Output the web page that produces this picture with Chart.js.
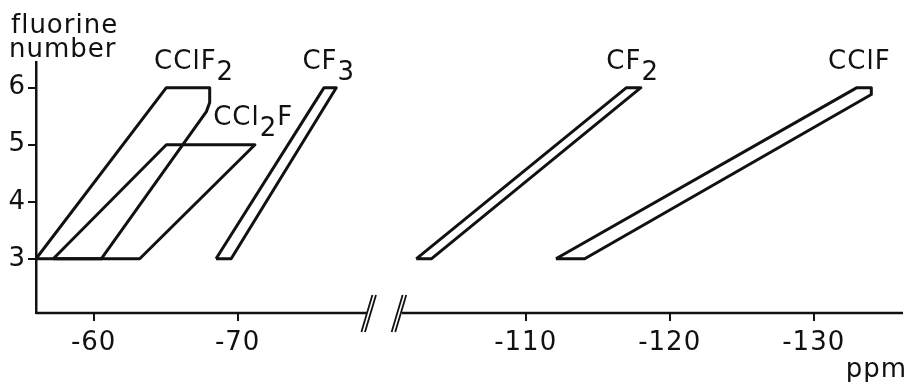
<!DOCTYPE html>
<html lang="en">
  <head>
    <meta charset="utf-8" />
    <title>Fluorine number vs shift</title>
    <script src="https://cdn.jsdelivr.net/npm/chart.js@4.4.1/dist/chart.umd.min.js"></script>
    <style>
      * { margin: 0; padding: 0; box-sizing: border-box; }
      body { background: #fff; width: 910px; height: 382px; overflow: hidden; }
      #wrap { position: relative; width: 910px; height: 382px; }
    </style>
  </head>
  <body>
    <div id="wrap"><canvas id="chart"></canvas></div>

    <script>
      // outlines of each region, chemical shift (ppm) against fluorine number
      const cclf2Shift = [-56.0, -65.05, -68.06, -68.06, -67.83, -60.53, -56.0];
      const cclf2Fluor = [3, 6, 6, 5.74, 5.58, 3, 3];
      const ccl2fShift = [-57.2, -65.05, -71.2, -63.2, -57.2];
      const ccl2fFluor = [3, 5, 5, 3, 3];
      const cf3Shift = [-68.5, -76.0, -76.85, -69.55, -68.5];
      const cf3Fluor = [3, 6, 6, 3, 3];
      const cf2Shift = [-102.4, -117.0, -118.0, -103.45, -102.4];
      const cf2Fluor = [3, 6, 6, 3, 3];
      const cclfShift = [-112.1, -133.0, -134.0, -134.0, -114.1, -112.1];
      const cclfFluor = [3, 6, 6, 5.88, 3, 3];

      const xTicks = [-60, -70, -110, -120, -130];
      const yTicks = [3, 4, 5, 6];

      // the axis is broken between -80 and -100 ppm: 20 ppm are cut out
      const CUT = 20;
      const toAxis = (ppm) => (ppm < -80 ? ppm + CUT : ppm);
      const fromAxis = (v) => (v < -80 ? v - CUT : v);

      const series = [
        [cclf2Shift, cclf2Fluor],
        [ccl2fShift, ccl2fFluor],
        [cf3Shift, cf3Fluor],
        [cf2Shift, cf2Fluor],
        [cclfShift, cclfFluor],
      ];

      const FONT = "'DejaVu Sans', sans-serif";
      const INK = "#111";

      const datasets = series.map(([xs, ys]) => ({
        data: xs.map((p, i) => ({ x: toAxis(p), y: ys[i] })),
        showLine: true,
        borderColor: INK,
        borderWidth: 3,
        borderJoinStyle: "round",
        pointRadius: 0,
        fill: false,
      }));

      // compound names, subscripts flagged with 1
      const tags = [
        { parts: [["CClF", 0], ["2", 1]], ppm: -64.2, f: 6.33 },
        { parts: [["CF", 0], ["3", 1]], ppm: -74.5, f: 6.33 },
        { parts: [["CCl", 0], ["2", 1], ["F", 0]], ppm: -68.3, f: 5.35 },
        { parts: [["CF", 0], ["2", 1]], ppm: -115.6, f: 6.32 },
        { parts: [["CClF", 0]], ppm: -131.0, f: 6.32 },
      ];

      const extras = {
        id: "extras",
        beforeDraw(chart) {
          // a touch of spacing, like the original lettering
          chart.ctx.letterSpacing = "1px";
        },
        afterDraw(chart) {
          const { ctx, chartArea: a } = chart;
          const x = chart.scales.x, y = chart.scales.y;
          ctx.save();
          ctx.strokeStyle = INK;
          ctx.fillStyle = INK;

          // x axis line with a gap
          const b1 = x.getPixelForValue(-79.1);
          const b2 = x.getPixelForValue(-81.2);
          ctx.lineWidth = 2.5;
          ctx.beginPath();
          ctx.moveTo(a.left, a.bottom);
          ctx.lineTo(b1 - 2, a.bottom);
          ctx.moveTo(b2 + 3, a.bottom);
          ctx.lineTo(a.right, a.bottom);
          ctx.stroke();

          // double slashes at the break
          ctx.lineWidth = 1.8;
          ctx.beginPath();
          [b1, b2].forEach((bx) => {
            [-1.8, 1.8].forEach((o) => {
              ctx.moveTo(bx + o + 5.5, a.bottom - 18);
              ctx.lineTo(bx + o - 5.5, a.bottom + 19);
            });
          });
          ctx.stroke();

          // labels
          ctx.letterSpacing = "1px";
          ctx.font = "26px " + FONT;
          ctx.textBaseline = "alphabetic";
          ctx.textAlign = "left";
          tags.forEach((t) => {
            let px = x.getPixelForValue(toAxis(t.ppm));
            const py = y.getPixelForValue(t.f);
            t.parts.forEach(([s, sub]) => {
              ctx.fillText(s, px, py + (sub ? 11 : 0));
              px += ctx.measureText(s).width;
            });
          });

          ctx.fillText("fluorine", 11, 33);
          ctx.fillText("number", 9, 57);
          ctx.textAlign = "right";
          ctx.fillText("ppm", 907, 377);
          ctx.restore();
        },
      };

      new Chart(document.getElementById("chart"), {
        type: "scatter",
        data: { datasets },
        plugins: [extras],
        options: {
          responsive: true,
          maintainAspectRatio: false,
          animation: false,
          layout: { padding: { top: 62, right: 7, left: 0, bottom: 0 } },
          plugins: { legend: { display: false }, tooltip: { enabled: false } },
          scales: {
            x: {
              type: "linear",
              reverse: true,
              min: toAxis(-136.2),
              max: -56,
              afterBuildTicks: (s) => {
                s.ticks = xTicks.map((v) => ({ value: toAxis(v) }));
              },
              afterFit: (s) => { s.height = 69; },
              ticks: {
                color: INK,
                font: { family: FONT, size: 26 },
                padding: 7,
                maxRotation: 0,
                callback: (v) => String(fromAxis(v)),
              },
              grid: { drawOnChartArea: false, color: INK, lineWidth: 2, tickLength: 8 },
              border: { display: false },
            },
            y: {
              min: 2.05,
              max: 6.45,
              afterBuildTicks: (s) => {
                s.ticks = yTicks.map((v) => ({ value: v }));
              },
              afterFit: (s) => { s.width = 36; },
              ticks: {
                color: INK,
                font: { family: FONT, size: 26 },
                padding: 2,
              },
              grid: { drawOnChartArea: false, color: INK, lineWidth: 2, tickLength: 8 },
              border: { display: true, color: INK, width: 2.5 },
            },
          },
        },
      });
    </script>
  </body>
</html>
